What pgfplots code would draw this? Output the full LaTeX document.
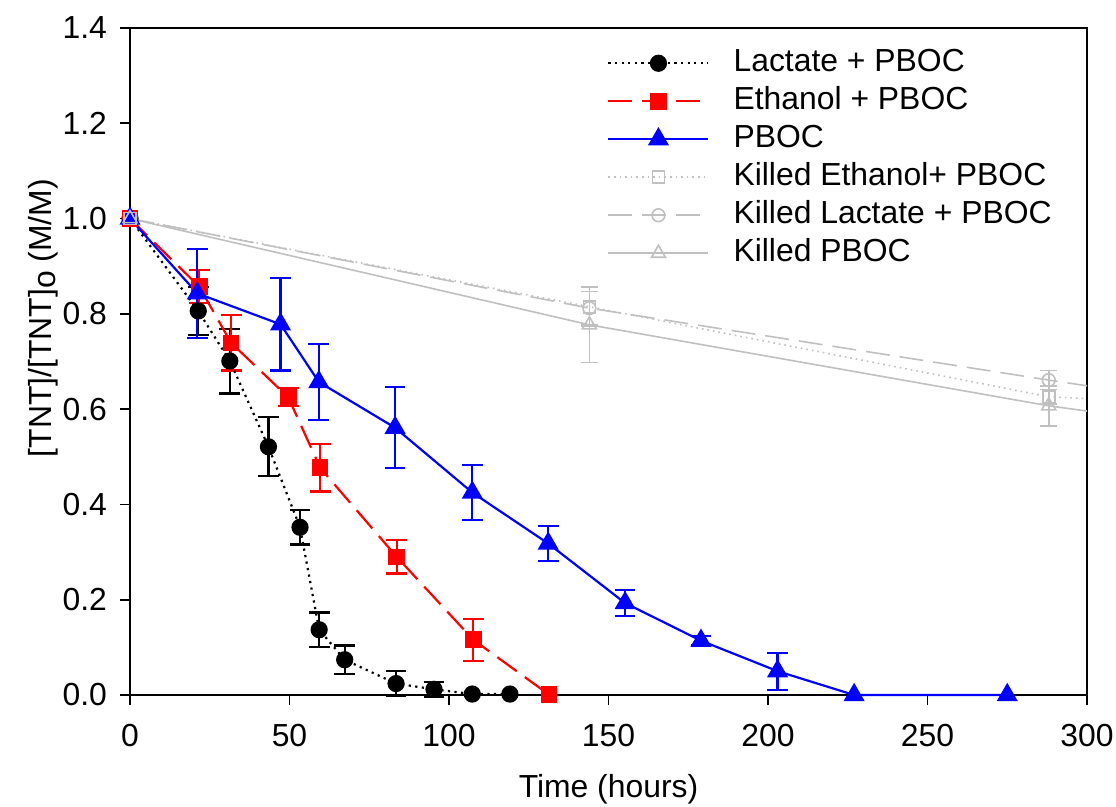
\documentclass[border=0pt]{standalone}
\usepackage{fontspec}
\setmainfont{Liberation Sans}
\usepackage{pgfplots}
\pgfplotsset{compat=1.18}
\usepackage{pgfplotstable}
\definecolor{kgray}{RGB}{192,192,192}
\definecolor{pblue}{RGB}{0,0,255}
\definecolor{pred}{RGB}{255,0,0}

\pgfplotstableread{
t v e
21.4 0.806 0.050
31.3 0.701 0.068
43.4 0.521 0.062
53.3 0.352 0.036
59.3 0.137 0.036
67.3 0.074 0.030
83.4 0.024 0.026
95.3 0.012 0.016
}\lacerr
\pgfplotstableread{
t v
0 1.000
21.4 0.806
31.3 0.701
43.4 0.521
53.3 0.352
59.3 0.137
67.3 0.074
83.4 0.024
95.3 0.012
107.3 0.002
119.1 0.002
}\lac
\pgfplotstableread{
t v e
21.7 0.857 0.035
31.7 0.739 0.058
49.6 0.625 0.019
59.6 0.477 0.050
83.6 0.290 0.035
107.6 0.116 0.044
}\etherr
\pgfplotstableread{
t v
0 1.000
21.7 0.857
31.7 0.739
49.6 0.625
59.6 0.477
83.6 0.290
107.6 0.116
131.3 0.001
}\eth
\pgfplotstableread{
t v e
21.1 0.843 0.093
47.2 0.778 0.097
59.2 0.657 0.080
83.1 0.561 0.085
107.3 0.425 0.057
131.1 0.318 0.037
155.2 0.193 0.028
179.0 0.114 0.010
203.0 0.050 0.039
}\pboerr
\pgfplotstableread{
t v
0 1.000
21.1 0.843
47.2 0.778
59.2 0.657
83.1 0.561
107.3 0.425
131.1 0.318
155.2 0.193
179.0 0.114
203.0 0.050
227.0 0.000
275.0 0.000
}\pbo
% killed series: marked points with errors
\pgfplotstableread{
t v e
144 0.815 0.040
288 0.626 0.015
}\kethpts
\pgfplotstableread{
t v e
144 0.812 0.035
288 0.661 0.020
}\klacpts
\pgfplotstableread{
t v e
144 0.777 0.079
288 0.607 0.042
}\kpbopts
% killed series: lines (run on to the right edge of the axis)
\pgfplotstableread{
t v
0 1.000
144 0.815
288 0.626
300 0.622
}\kethline
\pgfplotstableread{
t v
0 1.000
144 0.812
288 0.661
300 0.649
}\klacline
\pgfplotstableread{
t v
0 1.000
144 0.777
288 0.607
300 0.596
}\kpboline

\begin{document}
\begin{tikzpicture}
\begin{axis}[
  at={(0,0)}, anchor=south west,
  scale only axis,
  width=478.5bp, height=333.5bp,
  xmin=0, xmax=300, ymin=0, ymax=1.4,
  xtick={0,50,...,300},
  ytick={0,0.2,...,1.4},
  tick pos=left,
  tick align=outside,
  major tick length=5bp,
  axis line style={line width=0.9bp},
  every tick/.style={black, line width=0.9bp},
  /pgf/number format/assume math mode=true,
  yticklabel style={/pgf/number format/fixed, /pgf/number format/fixed zerofill, /pgf/number format/precision=1, font=\fontsize{16}{19}\selectfont, xshift=-3bp},
  xticklabel style={font=\fontsize{16}{19}\selectfont, yshift=-6bp},
  xlabel={Time (hours)},
  ylabel={[TNT]/[TNT]\raisebox{-0.25ex}{o} (M/M)},
  every axis x label/.style={at={(axis description cs:0.5,-0.142)}, anchor=center, font=\fontsize{16}{19}\selectfont},
  every axis y label/.style={at={(axis description cs:-0.091,0.565)}, rotate=90, anchor=center, font=\fontsize{16}{19}\selectfont},
  clip=false,
  legend cell align=left,
  legend style={draw=none, fill=none, inner sep=0pt,
    at={(rel axis cs:0.4984,0.971)}, anchor=north west,
    font=\fontsize{16}{19}\selectfont,
    nodes={inner sep=0pt, text height=12bp, text depth=3.5bp},
    row sep=3.5bp, column sep=12bp},
  legend image code/.code={\draw[mark repeat=2,mark phase=2] plot coordinates {(0bp,0bp) (25bp,0bp) (50bp,0bp)};},
]
% error bars (drawn first, under the markers)
\addplot[only marks, mark=none, forget plot, error bars/.cd, y dir=both, y explicit,
  error bar style={black, line width=1.1bp}, error mark options={black, rotate=90, mark size=5.2bp, line width=1.1bp}]
  table[x=t, y=v, y error=e]{\lacerr};
\addplot[only marks, mark=none, forget plot, error bars/.cd, y dir=both, y explicit,
  error bar style={pred, line width=1.1bp}, error mark options={pred, rotate=90, mark size=5.2bp, line width=1.1bp}]
  table[x=t, y=v, y error=e]{\etherr};
\addplot[only marks, mark=none, forget plot, error bars/.cd, y dir=both, y explicit,
  error bar style={pblue, line width=1.1bp}, error mark options={pblue, rotate=90, mark size=5.2bp, line width=1.1bp}]
  table[x=t, y=v, y error=e]{\pboerr};

% main series
\addplot[black, line width=1.1bp, dash pattern=on 1.1bp off 2.2bp, mark=*, mark size=3.75bp,
  mark options={solid, fill=black}] table[x=t, y=v]{\lac};
\addlegendentry{Lactate + PBOC}
\addplot[pred, line width=1.1bp, dash pattern=on 12bp off 5bp, mark=square*, mark size=3.6bp,
  mark options={solid, fill=pred}] table[x=t, y=v]{\eth};
\addlegendentry{Ethanol + PBOC}
\addplot[pblue, line width=1.1bp, mark=triangle*, mark size=5bp,
  mark options={solid, fill=pblue}] table[x=t, y=v]{\pbo};
\addlegendentry{PBOC}

% killed series: lines
\addplot[kgray, line width=0.8bp, dash pattern=on 0.8bp off 2bp, forget plot] table[x=t, y=v]{\kethline};
\addplot[kgray, line width=0.8bp, dash pattern=on 12bp off 5bp, forget plot] table[x=t, y=v]{\klacline};
\addplot[kgray, line width=0.8bp, forget plot] table[x=t, y=v]{\kpboline};
% killed series: start points
\addplot[only marks, kgray, mark=square, mark size=3bp, mark options={solid, line width=0.8bp, fill=white}, forget plot] coordinates {(0,1.0)};
\addplot[only marks, kgray, mark=triangle, mark size=4bp, mark options={solid, line width=0.8bp, fill=white}, forget plot] coordinates {(0,1.0)};
% killed series: points with error bars
\addplot[only marks, kgray, mark=square, mark size=3bp, mark options={solid, line width=0.8bp, fill=white}, forget plot,
  error bars/.cd, y dir=both, y explicit, error bar style={kgray, line width=0.8bp},
  error mark options={kgray, rotate=90, mark size=4.2bp, line width=0.8bp}]
  table[x=t, y=v, y error=e]{\kethpts};
\addplot[only marks, kgray, mark=o, mark size=3.2bp, mark options={solid, line width=0.8bp, fill=white}, forget plot,
  error bars/.cd, y dir=both, y explicit, error bar style={kgray, line width=0.8bp},
  error mark options={kgray, rotate=90, mark size=4.2bp, line width=0.8bp}]
  table[x=t, y=v, y error=e]{\klacpts};
\addplot[only marks, kgray, mark=triangle, mark size=4bp, mark options={solid, line width=0.8bp, fill=white}, forget plot,
  error bars/.cd, y dir=both, y explicit, error bar style={kgray, line width=0.8bp},
  error mark options={kgray, rotate=90, mark size=4.2bp, line width=0.8bp}]
  table[x=t, y=v, y error=e]{\kpbopts};

% legend images for killed series
\addlegendimage{kgray, line width=0.8bp, dash pattern=on 0.8bp off 2bp, mark=square, mark size=3bp, mark options={solid, fill=white}}
\addlegendentry{Killed Ethanol+ PBOC}
\addlegendimage{kgray, line width=0.8bp, dash pattern=on 12bp off 5bp, mark=o, mark size=3.2bp, mark options={solid, fill=white}}
\addlegendentry{Killed Lactate + PBOC}
\addlegendimage{kgray, line width=0.8bp, mark=triangle, mark size=4bp, mark options={solid, fill=white}}
\addlegendentry{Killed PBOC}
\end{axis}
\pgfresetboundingbox
\path[use as bounding box] (-65bp,-56bp) rectangle (493bp,347.5bp);
\end{tikzpicture}
\end{document}
